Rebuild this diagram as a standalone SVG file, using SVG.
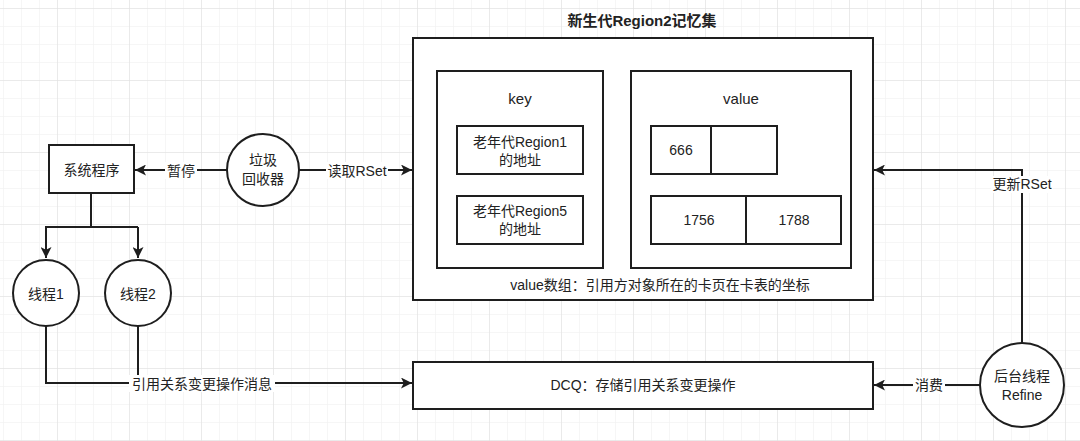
<svg xmlns="http://www.w3.org/2000/svg" width="1080" height="441" viewBox="0 0 1080 441">
<style>
.s{fill:#fff;stroke:#1e1e1e;stroke-width:2}
.l{fill:none;stroke:#1e1e1e;stroke-width:2}
.t{font-family:"Liberation Sans","Noto Sans CJK SC",sans-serif;font-size:14px;fill:#222;text-anchor:middle;dominant-baseline:central}
.b{font-weight:bold;font-size:15px}
.k{font-size:15px}
.lb{fill:#fff;stroke:none}
</style>
<defs>
<pattern id="mg" width="18" height="18" patternUnits="userSpaceOnUse" x="3" y="8">
<path d="M0 0H18M0 0V18" fill="none" stroke="#eeeeee" stroke-width="1"/>
</pattern>
<pattern id="Mg" width="72" height="72" patternUnits="userSpaceOnUse" x="57" y="8">
<path d="M0 0H72M0 0V72" fill="none" stroke="#dedede" stroke-width="1"/>
</pattern>
<marker id="ar" viewBox="0 0 10 10" refX="10" refY="5" markerWidth="5.5" markerHeight="5.5" orient="auto-start-reverse">
<path d="M0 0L10 5L0 10L2.5 5Z" fill="#1e1e1e"/>
</marker>
</defs>
<rect width="1080" height="441" fill="#fff"/>
<rect width="1080" height="441" fill="url(#mg)"/>
<rect width="1080" height="441" fill="url(#Mg)"/>

<g id="connectors">
<path class="l" d="M227 170H135" marker-end="url(#ar)"/>
<rect class="lb" x="165" y="162" width="32" height="17"/>
<text class="t" x="181" y="171">暂停</text>
<path class="l" d="M299 170H412" marker-end="url(#ar)"/>
<rect class="lb" x="326" y="162" width="62" height="17"/>
<text class="t" x="357" y="171">读取RSet</text>
<path class="l" d="M91 193V227"/>
<path class="l" d="M45 227H138"/>
<path class="l" d="M46 227V258" marker-end="url(#ar)"/>
<path class="l" d="M138 227V258" marker-end="url(#ar)"/>
<path class="l" d="M46 326V383H412" marker-end="url(#ar)"/>
<path class="l" d="M138 326V383"/>
<rect class="lb" x="129" y="375" width="146" height="17"/>
<text class="t" x="202" y="384">引用关系变更操作消息</text>
<path class="l" d="M1022 343V170H874" marker-end="url(#ar)"/>
<rect class="lb" x="991" y="176" width="62" height="17"/>
<text class="t" x="1022" y="184">更新RSet</text>
<path class="l" d="M980 385H874" marker-end="url(#ar)"/>
<rect class="lb" x="913" y="377" width="32" height="17"/>
<text class="t" x="929" y="385">消费</text>
</g>

<g id="sys">
<rect class="s" x="49" y="145" width="85" height="48"/>
<text class="t" x="91.5" y="170">系统程序</text>
</g>
<g id="gc">
<circle class="s" cx="263" cy="170" r="36"/>
<text class="t" x="263" y="160">垃圾</text>
<text class="t" x="263" y="179">回收器</text>
</g>
<g id="t1">
<circle class="s" cx="46" cy="293" r="33"/>
<text class="t" x="46" y="294">线程1</text>
</g>
<g id="t2">
<circle class="s" cx="138" cy="293" r="33"/>
<text class="t" x="138" y="294">线程2</text>
</g>

<g id="rset">
<text class="t b" x="642" y="20">新生代Region2记忆集</text>
<rect class="s" x="413" y="38" width="460" height="262"/>
<text class="t" x="660" y="285">value数组：引用方对象所在的卡页在卡表的坐标</text>
</g>
<g id="key">
<rect class="s" x="437" y="71" width="166" height="197"/>
<text class="t k" x="520" y="98">key</text>
</g>
<g id="key1">
<rect class="s" x="457" y="126" width="126" height="48"/>
<text class="t" x="520" y="142">老年代Region1</text>
<text class="t" x="520" y="160">的地址</text>
</g>
<g id="key2">
<rect class="s" x="457" y="196" width="126" height="48"/>
<text class="t" x="520" y="211">老年代Region5</text>
<text class="t" x="520" y="229">的地址</text>
</g>
<g id="value">
<rect class="s" x="631" y="71" width="220" height="197"/>
<text class="t k" x="741" y="98">value</text>
</g>
<g id="val1">
<rect class="s" x="651" y="126" width="126" height="48"/>
<path class="l" d="M711 126V174"/>
<text class="t" x="681" y="150">666</text>
</g>
<g id="val2">
<rect class="s" x="651" y="196" width="190" height="48"/>
<path class="l" d="M746 196V244"/>
<text class="t" x="699" y="220">1756</text>
<text class="t" x="794" y="220">1788</text>
</g>
<g id="dcq">
<rect class="s" x="413" y="362" width="460" height="47"/>
<text class="t" x="643" y="385">DCQ：存储引用关系变更操作</text>
</g>
<g id="refine">
<circle class="s" cx="1022" cy="385" r="42"/>
<text class="t" x="1022" y="376">后台线程</text>
<text class="t" x="1022" y="395">Refine</text>
</g>
</svg>
